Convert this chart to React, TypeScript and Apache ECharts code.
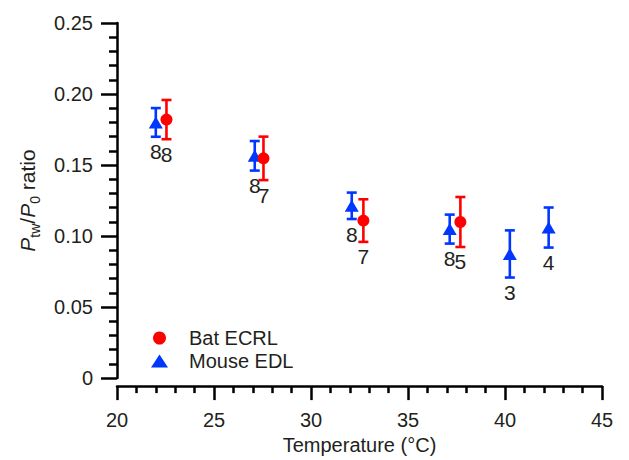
import React, { useEffect, useRef } from "react";
import * as echarts from "echarts";

// Bat ECRL (red circles)
const batTemps = [22.55, 27.55, 32.7, 37.7];
const batMeans = [0.182, 0.1547, 0.1109, 0.1099];
const batErrs = [0.0138, 0.0153, 0.015, 0.0176];
const batN = [8, 7, 7, 5];

// Mouse EDL (blue triangles)
const mouseTemps = [22, 27.1, 32.1, 37.15, 40.25, 42.25];
const mouseMeans = [0.18, 0.1565, 0.1213, 0.1049, 0.0874, 0.106];
const mouseErrs = [0.0101, 0.0104, 0.0093, 0.0102, 0.0166, 0.0141];
const mouseN = [8, 8, 8, 8, 3, 4];

const xTicks = [20, 25, 30, 35, 40, 45];
const yTicks = [0, 0.05, 0.1, 0.15, 0.2, 0.25];

const RED = "#ff0000";
const BLUE = "#0037ff";
const TEXT = "#231f20";
const FONT = "Liberation Sans, Arial, sans-serif";

function errorSeries(name: string, temps: number[], means: number[], errs: number[], ns: number[], color: string) {
  return {
    type: "custom",
    name: name + " err",
    data: temps.map((t, i) => [t, means[i], errs[i], ns[i]]),
    z: 2,
    renderItem: (params: any, api: any) => {
      const x = api.value(0);
      const y = api.value(1);
      const e = api.value(2);
      const n = api.value(3);
      const top = api.coord([x, y + e]);
      const bot = api.coord([x, y - e]);
      const cap = 5;
      const style = { stroke: color, lineWidth: 2.6 };
      return {
        type: "group",
        children: [
          { type: "line", shape: { x1: top[0], y1: top[1], x2: bot[0], y2: bot[1] }, style },
          { type: "line", shape: { x1: top[0] - cap, y1: top[1], x2: top[0] + cap, y2: top[1] }, style },
          { type: "line", shape: { x1: bot[0] - cap, y1: bot[1], x2: bot[0] + cap, y2: bot[1] }, style },
          {
            type: "text",
            x: bot[0],
            y: bot[1] + 15,
            style: {
              text: String(n),
              fill: TEXT,
              font: "21px " + FONT,
              align: "center",
              verticalAlign: "middle",
            },
          },
        ],
      };
    },
  };
}

export default function App() {
  const ref = useRef<HTMLDivElement>(null);
  useEffect(() => {
    if (!ref.current) return;
    const chart = echarts.init(ref.current, undefined, { renderer: "svg" });
    chart.setOption({
      animation: false,
      backgroundColor: "#ffffff",
      textStyle: { fontFamily: FONT, color: TEXT },
      grid: { left: 117, right: 27, top: 23, bottom: 73, containLabel: false },
      legend: {
        orient: "vertical",
        left: 146,
        top: 323,
        itemWidth: 17,
        itemHeight: 13,
        itemGap: 3,
        textStyle: { fontSize: 20, color: TEXT, fontFamily: FONT, padding: [0, 0, 0, 16] },
        data: [
          { name: "Bat ECRL", icon: "circle" },
          { name: "Mouse EDL", icon: "triangle" },
        ],
      },
      xAxis: {
        type: "value",
        min: xTicks[0],
        max: xTicks[xTicks.length - 1],
        interval: 5,
        offset: 8,
        name: "Temperature (°C)",
        nameLocation: "middle",
        nameGap: 47,
        nameTextStyle: { fontSize: 20, color: TEXT, fontFamily: FONT },
        axisLine: { show: true, onZero: false, lineStyle: { color: "#000", width: 2.5 } },
        axisTick: { show: true, inside: false, length: 14, lineStyle: { color: "#000", width: 2.5 } },
        minorTick: { show: true, splitNumber: 5, length: 7, lineStyle: { color: "#000", width: 2.5 } },
        axisLabel: { fontSize: 20, color: TEXT, margin: 24, fontFamily: FONT },
        splitLine: { show: false },
      },
      yAxis: {
        type: "value",
        min: yTicks[0],
        max: yTicks[yTicks.length - 1],
        interval: 0.05,
        name: "{i|P}{s|tw}{n|/}{i|P}{s|0}{n| ratio}",
        nameLocation: "middle",
        nameGap: 78,
        nameRotate: 90,
        nameTextStyle: {
          fontSize: 20,
          color: TEXT,
          fontFamily: FONT,
          rich: {
            i: { fontSize: 21, fontStyle: "italic", fontFamily: FONT, color: TEXT, lineHeight: 22, verticalAlign: "top" },
            n: { fontSize: 21, fontFamily: FONT, color: TEXT, lineHeight: 22, verticalAlign: "top" },
            s: { fontSize: 14, fontFamily: FONT, color: TEXT, lineHeight: 14, verticalAlign: "top", padding: [11, 0, 0, 0] },
          },
        },
        axisLine: { show: true, onZero: false, lineStyle: { color: "#000", width: 2.5 } },
        axisTick: { show: true, inside: false, length: 16, lineStyle: { color: "#000", width: 2.5 } },
        minorTick: { show: true, splitNumber: 5, length: 8, lineStyle: { color: "#000", width: 2.5 } },
        axisLabel: {
          fontSize: 20,
          color: TEXT,
          margin: 24,
          fontFamily: FONT,
          formatter: (v: number) => (v === 0 ? "0" : v.toFixed(2)),
        },
        splitLine: { show: false },
      },
      series: [
        errorSeries("Mouse EDL", mouseTemps, mouseMeans, mouseErrs, mouseN, BLUE),
        errorSeries("Bat ECRL", batTemps, batMeans, batErrs, batN, RED),
        {
          type: "scatter",
          name: "Mouse EDL",
          symbol: "triangle",
          symbolSize: [14, 12],
          itemStyle: { color: BLUE, opacity: 1 },
          data: mouseTemps.map((t, i) => [t, mouseMeans[i]]),
          z: 3,
        },
        {
          type: "scatter",
          name: "Bat ECRL",
          symbol: "circle",
          symbolSize: 12,
          itemStyle: { color: RED, opacity: 1 },
          data: batTemps.map((t, i) => [t, batMeans[i]]),
          z: 4,
        },
      ],
    });
    return () => chart.dispose();
  }, []);
  return <div ref={ref} style={{ width: 629, height: 460, position: "fixed", left: 0, top: 0 }} />;
}
